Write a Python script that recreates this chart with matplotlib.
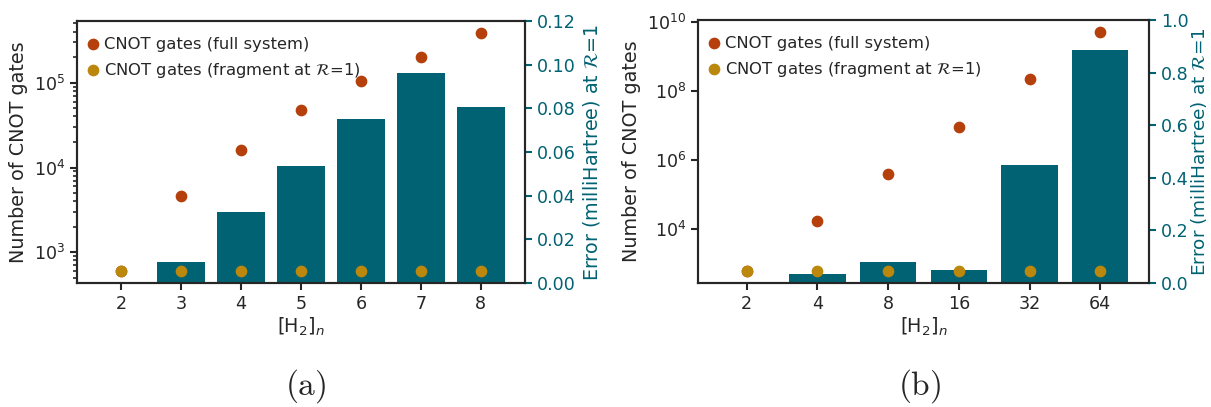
import numpy as np
import matplotlib
matplotlib.use("Agg")
import matplotlib.pyplot as plt
from matplotlib.ticker import NullLocator

# data
sizes_a = ["2", "3", "4", "5", "6", "7", "8"]
cnot_full_a = [600, 4630, 16100, 47200, 106000, 202000, 387000]
cnot_frag_a = [600, 600, 600, 600, 600, 600, 600]
error_a = [0.0, 0.0095, 0.0326, 0.0537, 0.0749, 0.096, 0.0807]

sizes_b = ["2", "4", "8", "16", "32", "64"]
cnot_full_b = [600, 16600, 398000, 9.25e6, 2.16e8, 5.13e9]
cnot_frag_b = [600, 600, 600, 600, 600, 600]
error_b = [0.0, 0.034, 0.079, 0.05, 0.45, 0.885]

TEAL = "#006272"
ORANGE = "#b5400c"
GOLD = "#bb870d"
DARK = "#262626"

plt.rcParams.update({
    "font.family": "DejaVu Sans",
    "mathtext.fontset": "dejavusans",
    "axes.edgecolor": DARK,
    "axes.linewidth": 1.5,
    "xtick.color": DARK,
    "ytick.color": DARK,
    "xtick.major.width": 1.5,
    "ytick.major.width": 1.5,
    "ytick.minor.width": 1.2,
    "xtick.major.size": 5,
    "ytick.major.size": 5,
    "ytick.minor.size": 3,
    "xtick.labelsize": 12.6,
    "ytick.labelsize": 12.6,
    "axes.labelsize": 13.8,
    "legend.fontsize": 11.8,
    "text.color": DARK,
    "axes.labelcolor": DARK,
})

W, H = 1211, 407
fig = plt.figure(figsize=(W / 100, H / 100), dpi=100)


def panel(rect, sizes, full, frag, err, err_max, minor_on, pad2=4.0, size2=13.8):
    ax = fig.add_axes(rect)
    ax2 = ax.twinx()
    x = np.arange(len(sizes))
    ax2.bar(x, err, width=0.8, color=TEAL)
    ax2.set_ylim(0, err_max)
    ax2.set_ylabel(r"Error (milliHartree) at $\mathcal{R}$=1", color=TEAL,
                   labelpad=pad2, fontsize=size2)
    ax2.tick_params(axis="y", colors=TEAL, labelcolor=TEAL)

    ax.scatter(x, full, s=55, color=ORANGE, label="CNOT gates (full system)", zorder=3)
    ax.scatter(x, frag, s=55, color=GOLD, label=r"CNOT gates (fragment at $\mathcal{R}$=1)", zorder=3)
    ax.set_yscale("log")
    if not minor_on:
        ax.yaxis.set_minor_locator(NullLocator())
    ax.set_xticks(x)
    ax.set_xticklabels(sizes)
    ax.set_xlabel(r"[H$_2$]$_n$", labelpad=2)
    ax.set_ylabel("Number of CNOT gates")
    ax.set_zorder(ax2.get_zorder() + 1)
    ax.patch.set_visible(False)
    ax.legend(loc="upper left", bbox_to_anchor=(0.0, 0.975), frameon=False,
              handlelength=0.8, handletextpad=0.3, borderaxespad=0.15,
              labelspacing=0.55)
    return ax, ax2


panel([77 / W, 124 / H, 448 / W, 262 / H], sizes_a, cnot_full_a, cnot_frag_a,
      error_a, 0.12, True)
panel([698 / W, 124 / H, 451 / W, 263 / H], sizes_b, cnot_full_b, cnot_frag_b,
      error_b, 1.0, False, 0.0, 13.3)

fig.text(306 / W, 1 - 386 / H, r"$\mathrm{(a)}$", math_fontfamily="cm",
         fontsize=24, ha="center", va="center")
fig.text(920 / W, 1 - 386 / H, r"$\mathrm{(b)}$", math_fontfamily="cm",
         fontsize=24, ha="center", va="center")

fig.savefig("out.png", dpi=100)
